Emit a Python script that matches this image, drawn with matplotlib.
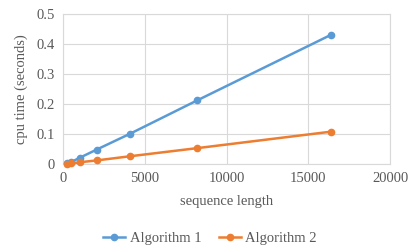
import matplotlib
matplotlib.use("Agg")
import matplotlib.pyplot as plt

lengths = [256, 512, 1024, 2048, 4096, 8192, 16384]
algo1 = [0.003, 0.007, 0.021, 0.048, 0.101, 0.212, 0.431]
algo2 = [0.001, 0.002, 0.006, 0.012, 0.026, 0.053, 0.108]
series_names = ["Algorithm 1", "Algorithm 2"]

plt.rcParams['font.family'] = ['Liberation Serif', 'DejaVu Serif']
txt = '#595959'
grid = '#D9D9D9'

fig = plt.figure(figsize=(4.2, 2.52), dpi=100)
ax = fig.add_axes([0.15, 0.349, 0.779, 0.595])
ax.plot(lengths, algo1, color='#5B9BD5', marker='o', markersize=4.5, lw=1.8, label=series_names[0], zorder=3, clip_on=False)
ax.plot(lengths, algo2, color='#ED7D31', marker='o', markersize=4.5, lw=1.8, label=series_names[1], zorder=3, clip_on=False)
ax.set_xlim(0, 20000)
ax.set_ylim(0, 0.5)
ax.set_xticks([0, 5000, 10000, 15000, 20000])
ax.set_yticks([0, 0.1, 0.2, 0.3, 0.4, 0.5])
ax.set_yticklabels(['0', '0.1', '0.2', '0.3', '0.4', '0.5'])
ax.grid(True, color=grid, lw=0.8)
ax.set_axisbelow(True)
for s in ax.spines.values():
    s.set_color(grid)
    s.set_linewidth(0.8)
ax.tick_params(length=0, labelsize=10.5, colors=txt, pad=6)
ax.set_xlabel('sequence length', fontsize=10.5, color=txt, labelpad=7)
ax.set_ylabel('cpu time (seconds)', fontsize=10.5, color=txt, labelpad=6)
fig.legend(loc='center', bbox_to_anchor=(0.5, 0.055), ncol=2, frameon=False, fontsize=10.5,
           labelcolor=txt, handlelength=1.5, columnspacing=1.2, handletextpad=0.3)
fig.savefig('out.png', dpi=100)
